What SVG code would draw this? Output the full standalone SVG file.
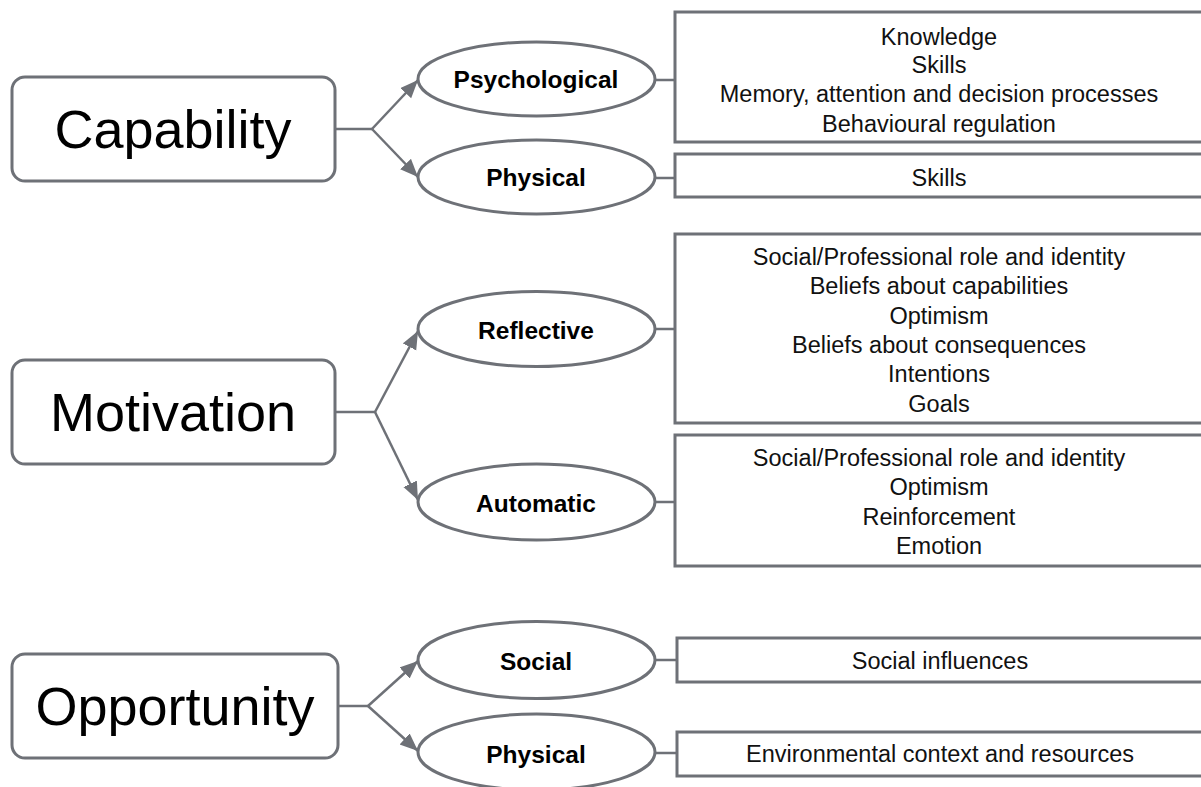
<svg xmlns="http://www.w3.org/2000/svg" width="1201" height="787" viewBox="0 0 1201 787">
<style>
.main{fill:#fff;stroke:#6e7177;stroke-width:3}
.ell{fill:#fff;stroke:#6e7177;stroke-width:3}
.box{fill:#fff;stroke:#6e7177;stroke-width:3}
.big{font-family:"Liberation Sans",Arial,sans-serif;font-size:54px;fill:#000;text-anchor:middle;dominant-baseline:central}
.lbl{font-family:"Liberation Sans",Arial,sans-serif;font-size:24.5px;font-weight:bold;fill:#000;text-anchor:middle;dominant-baseline:central}
.item{font-family:"Liberation Sans",Arial,sans-serif;font-size:23.5px;fill:#111;text-anchor:middle;dominant-baseline:central}
.con{fill:none;stroke:#6e7177;stroke-width:2.5}
</style>
<defs>
<marker id="arr" markerUnits="userSpaceOnUse" markerWidth="20" markerHeight="16" refX="18" refY="7.5" orient="auto">
<path d="M0,0 L18,7.5 L0,15 z" fill="#6e7177"/>
</marker>
</defs>
<rect width="1201" height="787" fill="#fff"/>

<g id="connectors">
<path class="con" d="M335,129 H372"/>
<path class="con" d="M372,129 L418,80" marker-end="url(#arr)"/>
<path class="con" d="M372,129 L418,177" marker-end="url(#arr)"/>
<path class="con" d="M655,80 H675 M655,178 H675"/>

<path class="con" d="M335,412 H375"/>
<path class="con" d="M375,412 L418,331" marker-end="url(#arr)"/>
<path class="con" d="M375,412 L418,500" marker-end="url(#arr)"/>
<path class="con" d="M655,329 H675 M655,502 H675"/>

<path class="con" d="M338,706 H368"/>
<path class="con" d="M368,706 L418,661" marker-end="url(#arr)"/>
<path class="con" d="M368,706 L418,751" marker-end="url(#arr)"/>
<path class="con" d="M655,660 H677 M655,753 H677"/>
</g>

<g id="capability">
<rect class="main" x="12" y="77" width="323" height="104" rx="13"/>
<text class="big" x="173" y="129">Capability</text>
</g>
<g id="psychological">
<ellipse class="ell" cx="536.5" cy="79" rx="118.5" ry="37"/>
<text class="lbl" x="536" y="79">Psychological</text>
</g>
<g id="cap-physical">
<ellipse class="ell" cx="536.5" cy="177" rx="118.5" ry="37"/>
<text class="lbl" x="536" y="177">Physical</text>
</g>
<g id="psych-list">
<rect class="box" x="675" y="12" width="528" height="130"/>
<text class="item" x="939" y="37">Knowledge</text>
<text class="item" x="939" y="65">Skills</text>
<text class="item" x="939" y="94">Memory, attention and decision processes</text>
<text class="item" x="939" y="124">Behavioural regulation</text>
</g>
<g id="phys-list">
<rect class="box" x="675" y="154" width="528" height="43"/>
<text class="item" x="939" y="178">Skills</text>
</g>

<g id="motivation">
<rect class="main" x="12" y="360" width="323" height="104" rx="13"/>
<text class="big" x="173" y="412">Motivation</text>
</g>
<g id="reflective">
<ellipse class="ell" cx="536.5" cy="329" rx="118.5" ry="37.5"/>
<text class="lbl" x="536" y="330">Reflective</text>
</g>
<g id="automatic">
<ellipse class="ell" cx="536.5" cy="502" rx="118.5" ry="38"/>
<text class="lbl" x="536" y="503">Automatic</text>
</g>
<g id="reflective-list">
<rect class="box" x="675" y="234" width="528" height="189"/>
<text class="item" x="939" y="257">Social/Professional role and identity</text>
<text class="item" x="939" y="286">Beliefs about capabilities</text>
<text class="item" x="939" y="316">Optimism</text>
<text class="item" x="939" y="345">Beliefs about consequences</text>
<text class="item" x="939" y="374">Intentions</text>
<text class="item" x="939" y="404">Goals</text>
</g>
<g id="automatic-list">
<rect class="box" x="675" y="435" width="528" height="131"/>
<text class="item" x="939" y="458">Social/Professional role and identity</text>
<text class="item" x="939" y="487">Optimism</text>
<text class="item" x="939" y="517">Reinforcement</text>
<text class="item" x="939" y="546">Emotion</text>
</g>

<g id="opportunity">
<rect class="main" x="12" y="654" width="326" height="104" rx="13"/>
<text class="big" x="175" y="706">Opportunity</text>
</g>
<g id="social">
<ellipse class="ell" cx="536.5" cy="660" rx="118.5" ry="38.5"/>
<text class="lbl" x="536" y="661">Social</text>
</g>
<g id="opp-physical">
<ellipse class="ell" cx="536.5" cy="752" rx="118.5" ry="38"/>
<text class="lbl" x="536" y="754">Physical</text>
</g>
<g id="social-list">
<rect class="box" x="677" y="638" width="526" height="44"/>
<text class="item" x="940" y="661">Social influences</text>
</g>
<g id="env-list">
<rect class="box" x="677" y="732" width="526" height="44"/>
<text class="item" x="940" y="754">Environmental context and resources</text>
</g>
</svg>
